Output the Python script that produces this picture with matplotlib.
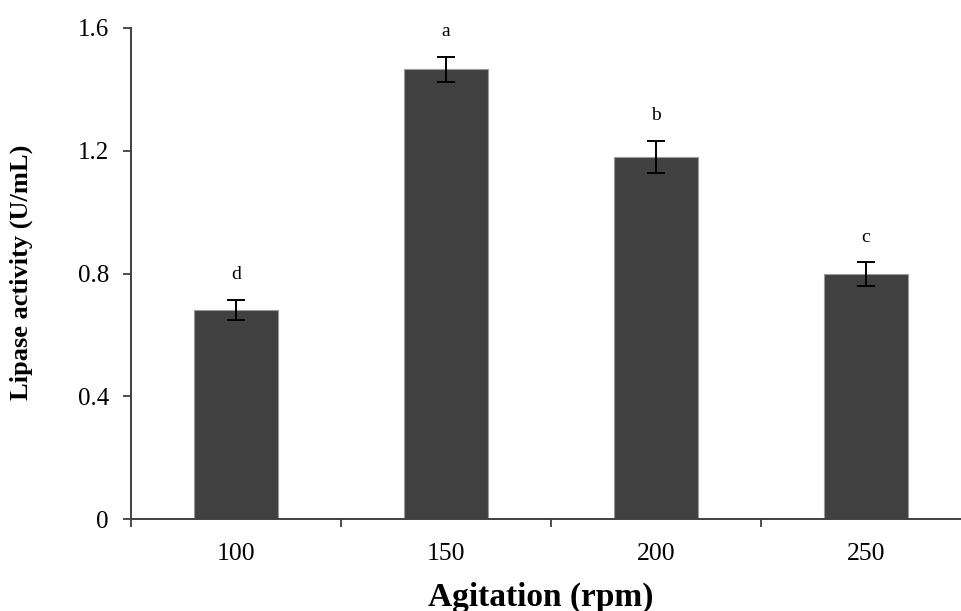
import matplotlib
matplotlib.use("Agg")
import matplotlib.pyplot as plt

# Lipase activity at different agitation speeds
agitation = ["100", "150", "200", "250"]
activity = [0.681, 1.465, 1.180, 0.798]
activity_err = [0.033, 0.042, 0.053, 0.038]
groups = ["d", "a", "b", "c"]

plt.rcParams["font.family"] = ["Liberation Serif", "DejaVu Serif"]

W, H = 961, 611
fig = plt.figure(figsize=(W / 100, H / 100), dpi=100)
left, right = 131, 971
bottom, top = 519, 28
ax = fig.add_axes([left / W, 1 - bottom / H, (right - left) / W, (bottom - top) / H])

x = range(len(agitation))
ax.bar(x, activity, width=0.4, color="#404040", edgecolor="#9a9a9a", linewidth=0.8, zorder=2)
ax.errorbar(x, activity, yerr=activity_err, fmt="none", ecolor="black",
            elinewidth=1.4, capsize=6.5, capthick=1.4, zorder=3)

for xi, v, e, g in zip(x, activity, activity_err, groups):
    ax.annotate(g, (xi, v + e), xytext=(0, 15), textcoords="offset points",
                ha="center", va="baseline", fontsize=14)

ax.set_xlim(-0.5, len(agitation) - 0.5)
ax.set_ylim(0, 1.6)
ax.set_yticks([0, 0.4, 0.8, 1.2, 1.6])
ax.set_yticklabels(["0", "0.4", "0.8", "1.2", "1.6"])
ax.set_xticks(x)
ax.set_xticklabels(agitation)
ax.set_xticks([i - 0.5 for i in range(len(agitation) + 1)], minor=True)

ax.tick_params(axis="x", which="major", length=0, pad=17, labelsize=18.5)
ax.tick_params(axis="x", which="minor", length=6, width=1.2, direction="out", color="#303030")
ax.tick_params(axis="y", length=6, width=1.2, direction="out", pad=10, labelsize=18, color="#303030")

for s in ("top", "right"):
    ax.spines[s].set_visible(False)
for s in ("left", "bottom"):
    ax.spines[s].set_color("#404040")
    ax.spines[s].set_linewidth(1.4)

fig.text(21 / W, 1 - 272 / H, "Lipase activity (U/mL)", rotation=90, ha="center", va="center",
         fontsize=19, fontweight="bold")
fig.text(541 / W, 1 - 597 / H, "Agitation (rpm)", ha="center", va="center",
         fontsize=24, fontweight="bold")

fig.savefig("out.png", dpi=100)
